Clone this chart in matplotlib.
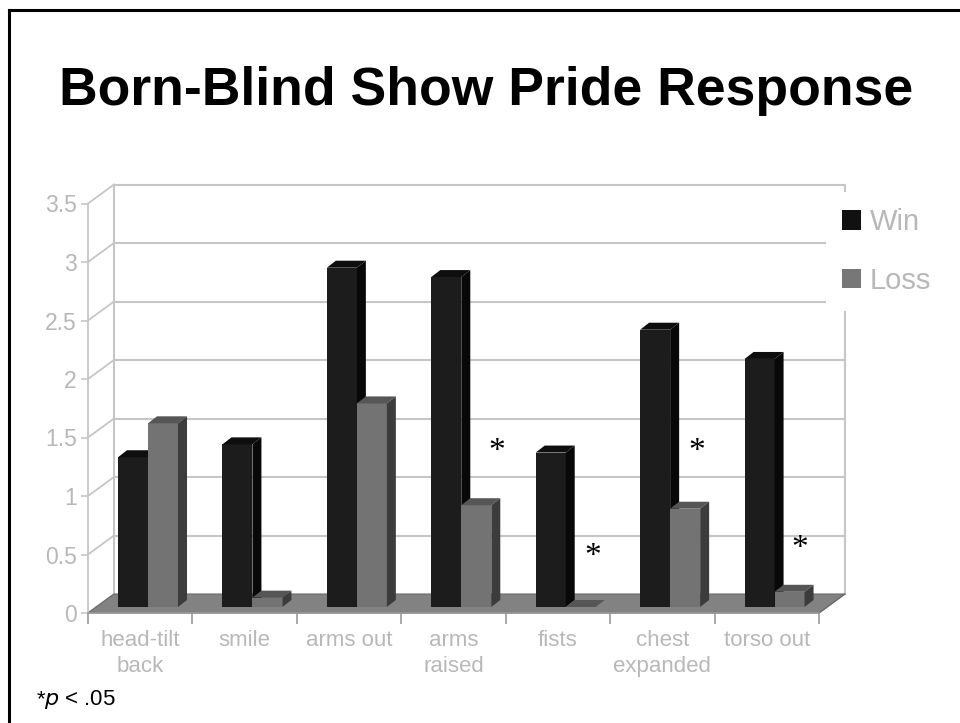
import numpy as np
import matplotlib.pyplot as plt
from matplotlib.patches import Polygon, Patch
from matplotlib.lines import Line2D

plt.rcParams['font.family'] = ['Liberation Sans', 'DejaVu Sans']

categories = ['head-tilt\nback', 'smile', 'arms out', 'arms\nraised', 'fists',
              'chest\nexpanded', 'torso out']
win = [1.28, 1.39, 2.90, 2.82, 1.32, 2.37, 2.12]
loss = [1.57, 0.08, 1.74, 0.87, 0.0, 0.84, 0.13]
yticks = [0, 0.5, 1, 1.5, 2, 2.5, 3, 3.5]
ytick_labels = ['0', '0.5', '1', '1.5', '2', '2.5', '3', '3.5']

# significance markers (x in category units, y in value units)
star_x = [3.91, 4.83, 5.83, 6.82]
star_y = [1.44, 0.54, 1.44, 0.61]

W, H = 960, 723
fig = plt.figure(figsize=(W / 100, H / 100), dpi=100)

# front plane of the plot: x 0..7 -> px 88..819, y 0..3.5 -> px 613 up
px_x = 731 / 7.0      # pixels per category
px_y = 117.0          # pixels per unit
ax = fig.add_axes([88 / W, (H - 613) / H, 731 / W, 3.5 * px_y / H])
ax.set_xlim(0, 7)
ax.set_ylim(0, 3.5)

# depth offsets (converted from pixels to data units)
wall_dx, wall_dy = 26 / px_x, 19 / px_y
bar_base = 6 / px_y
bar_dx, bar_dy = 9 / px_x, 7 / px_y
bar_w = 30 / px_x
bar_x0 = 30 / px_x

grid_c = '#c6c6c6'
lbl_c = '#b8b8b8'

# floor
floor = Polygon([(0, 0), (7, 0), (7 + wall_dx, wall_dy), (wall_dx, wall_dy)],
                closed=True, facecolor='#828282', edgecolor='#6a6a6a', lw=0.8,
                clip_on=False, zorder=1)
ax.add_patch(floor)

# walls: gridlines on the back wall and diagonals on the side wall
for v in yticks[1:]:
    ax.plot([wall_dx, 7 + wall_dx], [v + wall_dy, v + wall_dy], color=grid_c,
            lw=1.5, clip_on=False, zorder=0.5)
for v in yticks:
    ax.plot([0, wall_dx], [v, v + wall_dy], color=grid_c, lw=1.3,
            clip_on=False, zorder=0.5)
ax.plot([wall_dx, wall_dx], [wall_dy, 3.5 + wall_dy], color=grid_c, lw=1.5,
        clip_on=False, zorder=0.5)
ax.plot([7 + wall_dx, 7 + wall_dx], [wall_dy, 3.5 + wall_dy], color=grid_c,
        lw=1.5, clip_on=False, zorder=0.5)
ax.plot([7, 7 + wall_dx], [0, wall_dy], color='#6a6a6a', lw=0.8,
        clip_on=False, zorder=1.1)


def draw_bar(x, val, front, top, side, z):
    y0, y1 = bar_base, bar_base + val
    ax.add_patch(Polygon([(x, y0), (x + bar_w, y0), (x + bar_w, y1), (x, y1)],
                         facecolor=front, edgecolor='none', zorder=z))
    ax.add_patch(Polygon([(x, y1), (x + bar_w, y1),
                          (x + bar_w + bar_dx, y1 + bar_dy),
                          (x + bar_dx, y1 + bar_dy)],
                         facecolor=top, edgecolor='none', zorder=z))
    ax.add_patch(Polygon([(x + bar_w, y0), (x + bar_w + bar_dx, y0 + bar_dy),
                          (x + bar_w + bar_dx, y1 + bar_dy), (x + bar_w, y1)],
                         facecolor=side, edgecolor='none', zorder=z))


z = 2
for i in range(len(categories)):
    xw = i + bar_x0
    draw_bar(xw, win[i], '#1c1c1c', '#0e0e0e', '#080808', z)
    draw_bar(xw + bar_w, loss[i], '#737373', '#565656', '#3c3c3c', z + 0.1)
    z += 0.2

# axes styling
for s in ['top', 'right']:
    ax.spines[s].set_visible(False)
ax.spines['left'].set_color(grid_c)
ax.spines['left'].set_linewidth(1.3)
ax.spines['bottom'].set_color('#9a9a9a')
ax.spines['bottom'].set_linewidth(1.2)
ax.set_facecolor('none')

ax.set_yticks(yticks)
ax.set_yticklabels(ytick_labels)
ax.tick_params(axis='y', length=5, width=1.2, color=grid_c, labelcolor=lbl_c,
               labelsize=16.5, pad=3)

ax.set_xticks(np.arange(0, 8))
ax.set_xticklabels([])
ax.set_xticks(np.arange(len(categories)) + 0.5, minor=True)
ax.set_xticklabels(categories, minor=True)
ax.tick_params(axis='x', which='major', length=8, width=1.2, color='#9a9a9a')
ax.tick_params(axis='x', which='minor', length=0, labelcolor=lbl_c,
               labelsize=16, pad=12)
for t in ax.get_xticklabels(minor=True):
    t.set_linespacing(1.35)

for x, y in zip(star_x, star_y):
    ax.annotate('*', xy=(x, y), xytext=(0, -11), textcoords='offset points',
                ha='center', va='baseline', fontsize=24,
                family='Liberation Serif', color='black', annotation_clip=False,
                zorder=10)

handles = [Patch(facecolor='#111111', edgecolor='none'),
           Patch(facecolor='#777777', edgecolor='none')]
leg = fig.legend(handles, ['Win', 'Loss'], loc='upper left',
                 bbox_to_anchor=(826 / W, 1 - 192 / H), fontsize=21,
                 frameon=True, facecolor='white', edgecolor='none',
                 framealpha=1, fancybox=False, handlelength=0.65,
                 handleheight=0.65, handletextpad=0.3, labelspacing=1.05,
                 borderpad=0.55, borderaxespad=0)
for t in leg.get_texts():
    t.set_color(lbl_c)
leg.set_zorder(20)

fig.text(486 / W, 1 - 105 / H, 'Born-Blind Show Pride Response', ha='center',
         va='baseline', fontsize=38.5, fontweight='bold', color='black')

fig.text(37 / W, 1 - 705 / H, '*', ha='left', va='baseline', fontsize=16)
fig.text(44 / W, 1 - 705 / H, r'$p$ < .05', ha='left', va='baseline',
         fontsize=16)

# slide frame
fig.add_artist(Line2D([8.5 / W, 8.5 / W], [0, 1 - 9.5 / H], color='black',
                      lw=2.2, transform=fig.transFigure))
fig.add_artist(Line2D([8.5 / W, 1], [1 - 9.5 / H, 1 - 9.5 / H], color='black',
                      lw=2.2, transform=fig.transFigure))

fig.savefig('out.png', dpi=100)
